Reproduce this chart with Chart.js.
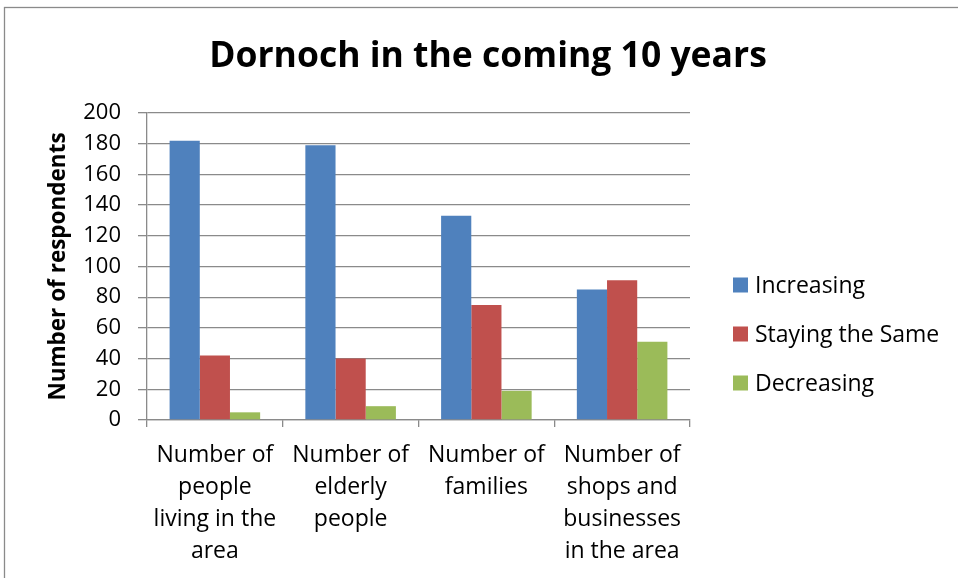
<!DOCTYPE html>
<html>
<head>
<meta charset="utf-8">
<script src="https://cdn.jsdelivr.net/npm/chart.js@4.4.0/dist/chart.umd.min.js"></script>
<style>
  html, body { margin: 0; padding: 0; background: #fff; }
  #wrap { position: relative; width: 958px; height: 578px; }
</style>
</head>
<body>
<div id="wrap"><canvas id="c" width="958" height="578"></canvas></div>
<script>
const categories = [
  ["Number of", "people", "living in the", "area"],
  ["Number of", "elderly", "people"],
  ["Number of", "families"],
  ["Number of", "shops and", "businesses", "in the area"]
];
const seriesNames = ["Increasing", "Staying the Same", "Decreasing"];
const increasing = [182, 179, 133, 85];
const stayingSame = [42, 40, 75, 91];
const decreasing = [5, 9, 19, 51];
const yTicks = [0, 20, 40, 60, 80, 100, 120, 140, 160, 180, 200];
const colors = ["#4F81BD", "#C0504D", "#9BBB59"];
const chartTitle = "Dornoch in the coming 10 years";
const yTitle = "Number of respondents";

const FONT = "'Open Sans', 'Liberation Sans', sans-serif";
const gridColor = "#8a8a8a";

const frame = {
  id: "frame",
  beforeDraw(chart) {
    const ctx = chart.ctx;
    ctx.save();
    ctx.fillStyle = "#fff";
    ctx.fillRect(0, 0, chart.width, chart.height);
    ctx.strokeStyle = "#8a8a8a";
    ctx.lineWidth = 1.3;
    ctx.strokeRect(4.5, 7.5, 1200, 1200);
    ctx.restore();
  }
};

const overlay = {
  id: "overlay",
  afterDraw(chart) {
    const ctx = chart.ctx;
    ctx.save();
    // title
    ctx.font = "bold 35.5px " + FONT;
    ctx.fillStyle = "#000";
    ctx.textAlign = "center";
    ctx.textBaseline = "middle";
    ctx.fillText(chartTitle, 488, 57);
    // legend
    ctx.font = "23px " + FONT;
    ctx.textBaseline = "middle";
    ctx.textAlign = "left";
    const ys = [285, 334, 383];
    chart.data.datasets.forEach((ds, i) => {
      ctx.fillStyle = ds.backgroundColor;
      ctx.fillRect(733, ys[i] - 7.5, 15, 15);
      ctx.fillStyle = "#000";
      ctx.fillText(ds.label, 755, ys[i] + 1);
    });
    ctx.restore();
  }
};

new Chart(document.getElementById("c"), {
  type: "bar",
  data: {
    labels: categories,
    datasets: [
      { label: seriesNames[0], data: increasing, backgroundColor: colors[0] },
      { label: seriesNames[1], data: stayingSame, backgroundColor: colors[1] },
      { label: seriesNames[2], data: decreasing, backgroundColor: colors[2] }
    ]
  },
  plugins: [frame, overlay],
  options: {
    responsive: false,
    animation: false,
    devicePixelRatio: 1,
    layout: { padding: { left: 0, right: 268, top: 113, bottom: 0 } },
    datasets: { bar: { categoryPercentage: 0.667, barPercentage: 1.0, borderWidth: 0 } },
    plugins: {
      legend: { display: false },
      tooltip: { enabled: false },
      title: { display: false }
    },
    scales: {
      x: {
        offset: true,
        grid: {
          display: true,
          drawOnChartArea: false,
          drawTicks: true,
          tickLength: 7,
          offset: true,
          color: gridColor,
          lineWidth: 1.3
        },
        border: { display: true, color: gridColor, width: 1.3 },
        ticks: {
          color: "#000",
          font: { family: FONT, size: 23, lineHeight: 1.4 },
          padding: 12,
          maxRotation: 0,
          autoSkip: false
        },
        afterFit(scale) { scale.height = 158; }
      },
      y: {
        min: 0,
        max: 200,
        afterBuildTicks(scale) { scale.ticks = yTicks.map(v => ({ value: v })); },
        grid: {
          color: gridColor,
          lineWidth: 1.3,
          drawTicks: true,
          tickLength: 9
        },
        border: { display: true, color: gridColor, width: 1.3 },
        ticks: {
          color: "#000",
          font: { family: FONT, size: 22 },
          padding: 17
        },
        title: {
          display: true,
          text: yTitle,
          color: "#000",
          font: { family: FONT, size: 22.5, weight: "bold" },
          padding: { top: 45, bottom: 0 }
        },
        afterFit(scale) { scale.width = 147; }
      }
    }
  }
});
</script>
</body>
</html>
